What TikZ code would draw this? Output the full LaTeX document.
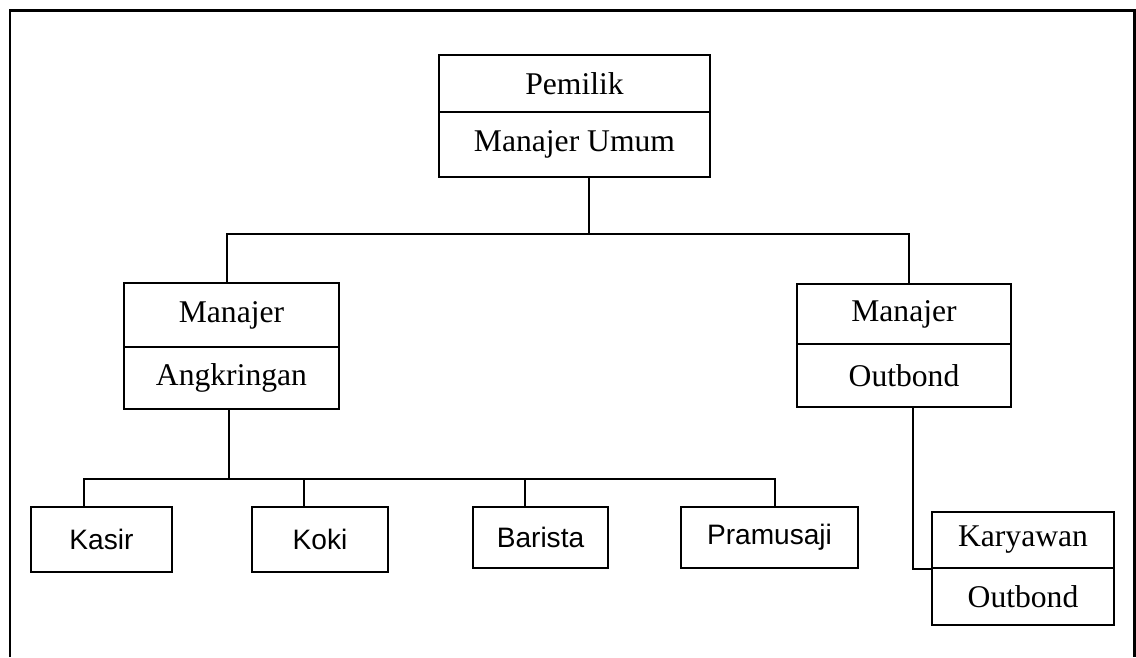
\documentclass[tikz,border=0pt]{standalone}
\usepackage{fontspec}
\setmainfont{Liberation Serif}
\newfontfamily\arialfont{Liberation Sans}

\tikzset{
  jabatan/.style={draw, line width=1.1pt, inner sep=0pt, font=\fontsize{18}{20}\selectfont},
  staf/.style={draw, line width=1.1pt, inner sep=0pt, font=\arialfont\fontsize{16}{18}\selectfont},
  garis/.style={line width=1.1pt},
}

\begin{document}
\begin{tikzpicture}[x=0.02cm, y=-0.02cm]
        \useasboundingbox (0,0) rectangle (1136,657);

        % bingkai
        \draw[line width=1.7pt] (10,657) -- (10,10) -- (1134,10) -- (1134,657);

        \node[jabatan, minimum width=5.42cm, minimum height=1.14cm] (pemilik) at (574.5,83.5) {Pemilik};
        \node[jabatan, minimum width=5.42cm, minimum height=1.30cm] (umum) at (574.5,144.5) {Manajer Umum};

        \node[jabatan, minimum width=4.30cm, minimum height=1.28cm] (mangk) at (231.5,315) {Manajer};
        \node[jabatan, minimum width=4.30cm, minimum height=1.24cm] (angk) at (231.5,378) {Angkringan};

        \node[jabatan, minimum width=4.28cm, minimum height=1.20cm] (mout) at (904,314) {Manajer};
        \node[jabatan, minimum width=4.28cm, minimum height=1.26cm] (outb) at (904,375.5) {Outbond};

        \node[staf, minimum width=2.82cm, minimum height=1.30cm] (kasir) at (101.5,539.5) {Kasir};
        \node[staf, minimum width=2.72cm, minimum height=1.30cm] (koki) at (320,539.5) {Koki};
        \node[staf, minimum width=2.70cm, minimum height=1.22cm] (barista) at (540.5,537.5) {Barista};
        \node[staf, minimum width=3.54cm, minimum height=1.22cm] (pramu) at (769.5,537.5) {Pramusaji};

        \node[jabatan, minimum width=3.64cm, minimum height=1.12cm] (kary) at (1023,540) {Karyawan};
        \node[jabatan, minimum width=3.64cm, minimum height=1.14cm] (outb2) at (1023,596.5) {Outbond};

        % garis komando
        \coordinate (busM) at (589,234);
        \coordinate (busL) at (227,234);
        \coordinate (busR) at (909,234);
        \draw[garis] (umum.south -| busM) -- (busM);
        \draw[garis] (mangk.north -| busL) -- (busL) -- (busR) -- (mout.north -| busR);

        \coordinate (kbus) at (229,479);
        \coordinate (kb1) at (84,479);
        \coordinate (kb2) at (304,479);
        \coordinate (kb3) at (525,479);
        \coordinate (kb4) at (775,479);
        \draw[garis] (angk.south -| kbus) -- (kbus);
        \draw[garis] (kasir.north -| kb1) -- (kb1) -- (kb4) -- (pramu.north -| kb4);
        \draw[garis] (koki.north -| kb2) -- (kb2);
        \draw[garis] (barista.north -| kb3) -- (kb3);

        \coordinate (kc) at (913,569);
        \draw[garis] (outb.south -| kc) |- (kary.south west);
\end{tikzpicture}
\end{document}
